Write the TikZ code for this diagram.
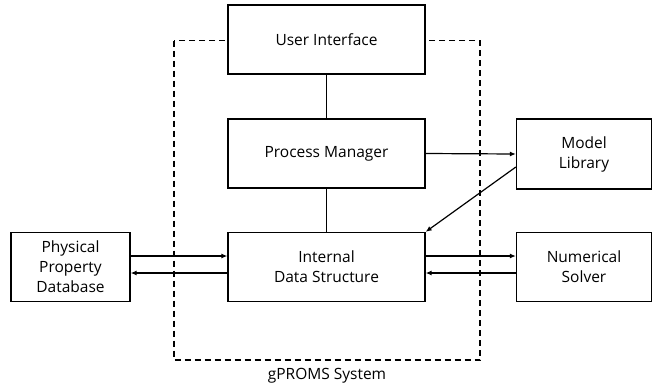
\documentclass[tikz,border=0pt]{standalone}
\usepackage{fontspec}
\setmainfont{Open Sans}
\usetikzlibrary{arrows.meta}
\begin{document}
\begin{tikzpicture}[x=1pt,y=-1pt,
  txt/.style={font=\fontsize{15.5}{20}\selectfont},
  blk/.style={draw,line width=1.3pt,fill=white,rectangle,align=center,
    inner sep=0pt,txt},
  link/.style={line width=1.3pt},
  flow/.style={line width=1.2pt,-{Latex[length=6pt,width=5pt]}},
  boundary/.style={line width=1.2pt,dash pattern=on 6pt off 4pt}]
\useasboundingbox (0,0) rectangle (660,389);
% system boundary
\draw[boundary] (174,40.5) rectangle (480,360);
\node[txt] (sys) at (327,376) {gPROMS System};
% blocks
\node[blk,minimum width=197pt,minimum height=69pt] (ui) at (326.5,39.5) {User Interface};
\node[blk,minimum width=197pt,minimum height=69pt] (pm) at (326.5,153.5) {Process Manager};
\node[blk,minimum width=197pt,minimum height=69pt] (ids) at (326.5,267) {Internal\\Data Structure};
\node[blk,minimum width=135pt,minimum height=70pt] (ml) at (584,154) {Model\\Library};
\node[blk,minimum width=135pt,minimum height=69pt] (ns) at (584,267) {Numerical\\Solver};
\node[blk,minimum width=119pt,minimum height=69pt] (ppd) at (70.5,267) {Physical\\Property\\Database};
% connections
\draw[link] (ui) -- (pm);
\draw[link] (pm) -- (ids);
\draw[flow] (pm.east) -- (ml.west);
\draw[flow] ([yshift=-13pt]ml.west) -- (ids.north east);
\draw[flow] ([yshift=11pt]ids.east) -- ([yshift=11pt]ns.west);
\draw[flow] ([yshift=-6pt]ns.west) -- ([yshift=-6pt]ids.east);
\draw[flow] ([yshift=11pt]ppd.east) -- ([yshift=11pt]ids.west);
\draw[flow] ([yshift=-6pt]ids.west) -- ([yshift=-6pt]ppd.east);
\end{tikzpicture}
\end{document}
